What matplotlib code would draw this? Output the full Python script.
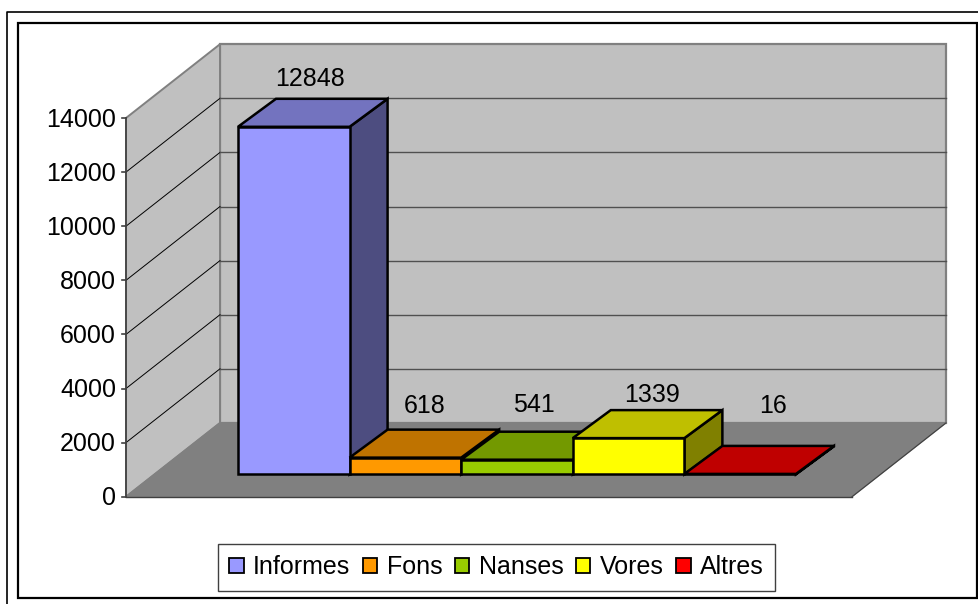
import matplotlib
matplotlib.use("Agg")
import matplotlib.pyplot as plt
from matplotlib.patches import Polygon, Patch, Rectangle
from matplotlib.lines import Line2D
from matplotlib.transforms import Affine2D

plt.rcParams["font.family"] = ["Liberation Sans", "DejaVu Sans"]

# -------------------- data --------------------
categories = ["Informes", "Fons", "Nanses", "Vores", "Altres"]
values = [12848, 618, 541, 1339, 16]
y_ticks = [0, 2000, 4000, 6000, 8000, 10000, 12000, 14000]

front_colors = ["#9999FF", "#FF9900", "#99CC00", "#FFFF00", "#FF0000"]
top_colors = ["#7373BF", "#BF7300", "#739900", "#BFBF00", "#BF0000"]
side_colors = ["#4D4D80", "#804D00", "#4D6600", "#808000", "#800000"]

# -------------------- layout (pixels of the 979x604 picture) --------------------
W, H = 979, 604
X0 = 209.5         # px of category 0 on the front plane
CAT_W = 111.6      # px per category
Y0 = 496.7         # px of value 0 on the front plane
PX_PER_UNIT = 378.7 / 14000
DEPTH_X, DEPTH_Y = 94.0, 73.8   # shift from front wall to back wall
BAR_D0 = 0.303                  # where the bars start on the floor
BAR_DX, BAR_DY = 38.0, 28.0     # shift from bar front to bar back
FLOOR_L, FLOOR_R = (126 - X0) / CAT_W, (852 - X0) / CAT_W
FS = 18

fig = plt.figure(figsize=(W / 100, H / 100), dpi=100)
ax = fig.add_axes([0, 0, 1, 1])
ax.set_xlim(-X0 / CAT_W, (W - X0) / CAT_W)
ax.set_ylim((Y0 - H) / PX_PER_UNIT, Y0 / PX_PER_UNIT)
ax.axis("off")

# depth is a fraction of the floor, turned into data units
def pt(c, v, d=0.0):
    return (c + d * DEPTH_X / CAT_W, v + d * DEPTH_Y / PX_PER_UNIT)

# front (back=0) or back (back=1) corner of a bar
def bar_pt(c, v, back=0):
    x, y = pt(c, v, BAR_D0)
    return (x + back * BAR_DX / CAT_W, y + back * BAR_DY / PX_PER_UNIT)

def poly(points, face, edge="none", lw=0.0, z=1):
    ax.add_patch(Polygon(points, closed=True, facecolor=face, edgecolor=edge,
                         linewidth=lw, joinstyle="miter", zorder=z))

vmax = y_ticks[-1]

# -------------------- walls and floor --------------------
poly([pt(FLOOR_L, 0, 1), pt(FLOOR_R, 0, 1), pt(FLOOR_R, vmax, 1), pt(FLOOR_L, vmax, 1)],
     "#C0C0C0", "#808080", 1.6)
poly([pt(FLOOR_L, 0), pt(FLOOR_L, 0, 1), pt(FLOOR_L, vmax, 1), pt(FLOOR_L, vmax)],
     "#C0C0C0", "#808080", 1.4)
poly([pt(FLOOR_L, 0), pt(FLOOR_R, 0), pt(FLOOR_R, 0, 1), pt(FLOOR_L, 0, 1)],
     "#808080", "#808080", 1.0)

for t in y_ticks[1:-1]:
    a, b, c = pt(FLOOR_L, t), pt(FLOOR_L, t, 1), pt(FLOOR_R, t, 1)
    ax.plot([a[0], b[0]], [a[1], b[1]], color="black", lw=0.7, zorder=2)
    ax.plot([b[0], c[0]], [b[1], c[1]], color="#505050", lw=1.0, zorder=2)

# -------------------- axis --------------------
ax.plot(*zip(pt(FLOOR_L, 0), pt(FLOOR_L, vmax)), color="#404040", lw=1.2, zorder=3)
ax.plot(*zip(pt(FLOOR_L, 0), pt(FLOOR_R, 0)), color="#404040", lw=1.0, zorder=3)
ax.plot(*zip(pt(FLOOR_R, 0), pt(FLOOR_R, 0, 1)), color="#404040", lw=0.8, zorder=3)
tick_len = 4 / CAT_W
label_gap = 10 / CAT_W
text_up = 1 / PX_PER_UNIT
for t in y_ticks:
    ax.plot([FLOOR_L - tick_len, FLOOR_L], [t, t], color="#404040", lw=1.2, zorder=3)
    ax.text(FLOOR_L - label_gap, t + text_up, str(t), ha="right", va="center_baseline",
            fontsize=FS, color="black")

# -------------------- bars --------------------
bar_lw = 1.8
for i, v in enumerate(values):
    l, r = float(i), i + 1.0
    poly([bar_pt(r, 0), bar_pt(r, 0, 1), bar_pt(r, v, 1), bar_pt(r, v)],
         side_colors[i], "black", bar_lw, z=4 + i)
    poly([bar_pt(l, v), bar_pt(l, v, 1), bar_pt(r, v, 1), bar_pt(r, v)],
         top_colors[i], "black", bar_lw, z=4 + i)
    poly([bar_pt(l, 0), bar_pt(r, 0), bar_pt(r, v), bar_pt(l, v)],
         front_colors[i], "black", bar_lw, z=4 + i)

# value labels sit by hand in the original, offsets in pixels from the bar's back top
label_dx = [-22, -19, -21, -15, -5]
label_dy = [22, 26, 29, 18, 42]
for i, v in enumerate(values):
    x, y = bar_pt(i + 0.5, v, 1)
    ax.text(x + label_dx[i] / CAT_W, y + label_dy[i] / PX_PER_UNIT, str(v), ha="center",
            va="center_baseline", fontsize=FS, color="black", zorder=20)

# -------------------- legend --------------------
handles = [Patch(facecolor=c, edgecolor="black", linewidth=1.3) for c in front_colors]
leg = ax.legend(handles, categories, ncol=5, loc="center",
                bbox_to_anchor=(496.5 / W, 1 - 567.5 / H), bbox_transform=fig.transFigure,
                fontsize=FS, fancybox=False, framealpha=1, edgecolor="#404040",
                handlelength=0.58, handleheight=0.58, handletextpad=0.37,
                columnspacing=0.50, borderpad=0.46, borderaxespad=0)
leg.get_frame().set_linewidth(1.0)

# -------------------- outer frames --------------------
px = Affine2D().scale(1 / W, -1 / H).translate(0, 1) + fig.transFigure
fig.add_artist(Rectangle((18, 23), 959, 575, transform=px, fill=False,
                         edgecolor="black", linewidth=1.6))
fig.add_artist(Line2D([7, 7, W], [H, 12, 12], transform=px, color="black", linewidth=1.2))

fig.savefig("out.png", dpi=100)
